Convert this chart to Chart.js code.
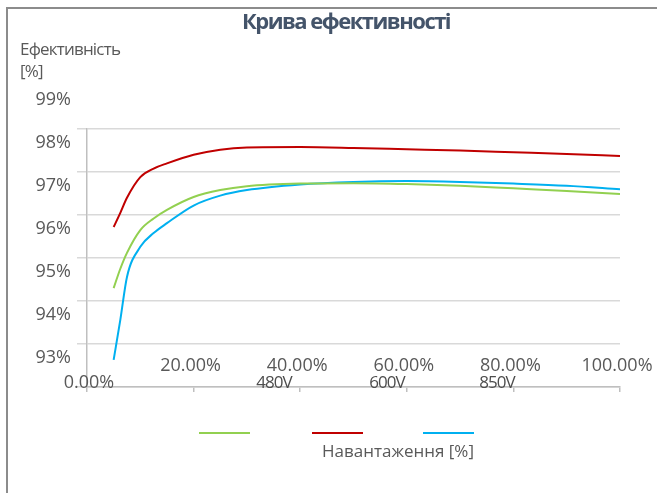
<!DOCTYPE html>
<html>
<head>
<meta charset="utf-8">
<script src="https://cdn.jsdelivr.net/npm/chart.js@4/dist/chart.umd.min.js"></script>
<style>
  html, body { margin: 0; padding: 0; background: #fff; }
  #wrap { position: relative; width: 657px; height: 493px; }
</style>
</head>
<body>
<div id="wrap"><canvas id="efficiency"></canvas></div>
<script>
// load points [%]
let loadPct = [5, 6.25, 7.5, 10, 12.5, 15, 20, 25, 30, 40, 50, 60, 70, 80, 90, 100];
// efficiency [%] per voltage
let eff480 = [95.30, 95.75, 96.12, 96.65, 96.92, 97.12, 97.42, 97.58, 97.67, 97.73, 97.74, 97.72, 97.68, 97.62, 97.56, 97.49];
let eff600 = [96.72, 97.05, 97.40, 97.88, 98.08, 98.20, 98.40, 98.52, 98.57, 98.58, 98.56, 98.53, 98.50, 98.46, 98.42, 98.37];
let eff850 = [93.63, 94.56, 95.56, 96.26, 96.58, 96.81, 97.22, 97.45, 97.58, 97.71, 97.77, 97.79, 97.77, 97.73, 97.68, 97.60];
let seriesNames = ["480V", "600V", "850V"];
let xTickValues = [0, 20, 40, 60, 80, 100];
let yTickValues = [93, 94, 95, 96, 97, 98, 99];

let toPoints = (ys) => ys.map((v, i) => ({ x: loadPct[i], y: v }));

let gray = '#595959';

// frame, titles, x labels and legend drawn around the plot
let decorations = {
    id: 'decorations',
    beforeDraw(chart) {
        let c = chart.ctx;
        c.save();
        c.strokeStyle = '#8c8c8c';
        c.lineWidth = 2;
        c.beginPath();
        c.moveTo(7, 493);
        c.lineTo(7, 8);
        c.lineTo(657, 8);
        c.stroke();
        c.restore();
    },
    afterDraw(chart) {
        let c = chart.ctx;
        let area = chart.chartArea;
        let xs = chart.scales.x;
        c.save();

        // title
        c.fillStyle = '#44546A';
        c.font = 'bold 22px "Open Sans"';
        c.letterSpacing = '-1.5px';
        c.textAlign = 'center';
        c.textBaseline = 'middle';
        c.fillText('Крива ефективності', 346, 23);

        // y title
        c.fillStyle = gray;
        c.font = '17px "Open Sans"';
        c.letterSpacing = '-0.8px';
        c.textAlign = 'left';
        c.fillText('Ефективність', 20, 50);
        c.fillText('[%]', 20, 72);

        // x tick labels
        c.letterSpacing = '0px';
        c.font = '18px "Open Sans"';
        c.textAlign = 'center';
        xTickValues.forEach((v) => {
            let px = xs.getPixelForValue(v);
            let label = v.toFixed(2) + '%';
            if (v === 0) c.fillText(label, px + 2, area.bottom - 4);
            else c.fillText(label, px - 3, area.bottom - 21);
        });

        // series names (sit on the axis line)
        c.fillStyle = '#4d4d4d';
        c.font = '17px "Open Sans"';
        c.letterSpacing = '-1px';
        let nameX = [274, 387, 497];
        seriesNames.forEach((n, i) => c.fillText(n, nameX[i], area.bottom - 4));

        // legend samples
        let sampleX = [199, 312, 423];
        chart.data.datasets.forEach((ds, i) => {
            c.strokeStyle = ds.borderColor;
            c.lineWidth = 2;
            c.beginPath();
            c.moveTo(sampleX[i], 433);
            c.lineTo(sampleX[i] + 51, 433);
            c.stroke();
        });

        // x title
        c.fillStyle = gray;
        c.letterSpacing = '0px';
        c.font = '17px "Open Sans"';
        c.fillText('Навантаження [%]', 398, 452);
        c.restore();
    }
};

new Chart(document.getElementById('efficiency'), {
    type: 'line',
    data: {
        datasets: [
            { label: seriesNames[0], data: toPoints(eff480), borderColor: '#92D050' },
            { label: seriesNames[1], data: toPoints(eff600), borderColor: '#C00000' },
            { label: seriesNames[2], data: toPoints(eff850), borderColor: '#00B0F0' },
        ]
    },
    options: {
        responsive: true,
        maintainAspectRatio: false,
        animation: false,
        layout: { padding: { left: 0, top: 129, right: 37, bottom: 100 } },
        elements: {
            line: { borderWidth: 2, cubicInterpolationMode: 'monotone', fill: false },
            point: { radius: 0 }
        },
        plugins: {
            legend: { display: false },
            title: { display: false },
            tooltip: { enabled: false }
        },
        scales: {
            x: {
                type: 'linear',
                min: 0,
                max: 100,
                afterBuildTicks: (s) => { s.ticks = xTickValues.map((v) => ({ value: v })); },
                afterFit: (s) => { s.height = 6; },
                ticks: { display: false },
                grid: { drawOnChartArea: false, drawTicks: true, tickLength: 5, color: '#bfbfbf', lineWidth: 1.5 },
                border: { color: '#bfbfbf', width: 1.5 }
            },
            y: {
                min: 93,
                max: 99,
                afterBuildTicks: (s) => { s.ticks = yTickValues.map((v) => ({ value: v })); },
                afterFit: (s) => { s.width = 87; },
                ticks: {
                    color: gray,
                    font: { family: 'Open Sans', size: 18 },
                    padding: 6,
                    labelOffset: -29,
                    callback: (v) => v + '%'
                },
                grid: { color: '#d9d9d9', lineWidth: 1.5, tickLength: 10 },
                border: { color: '#bfbfbf', width: 1.5 }
            }
        }
    },
    plugins: [decorations]
});
</script>
</body>
</html>
